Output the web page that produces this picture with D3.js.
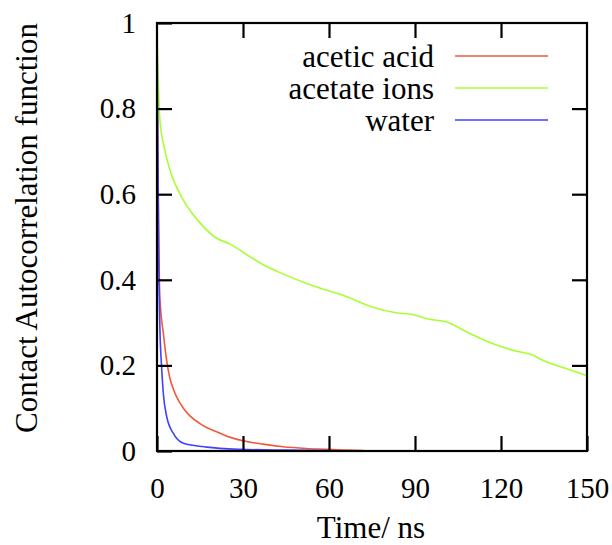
<!DOCTYPE html>
<html>
<head>
<meta charset="utf-8">
<script src="https://cdn.jsdelivr.net/npm/d3@7"></script>
<style>
  body { margin: 0; background: #fff; }
</style>
</head>
<body>
<div id="chart"></div>
<script>
// time in ns, values are contact autocorrelation
const acidTime = [0, 0.3, 0.6, 1, 2.3, 3.4, 4.5, 5.7, 6.8, 9.2, 11.5, 15, 17.3, 20.8, 25, 30, 37, 44, 52, 59, 66, 72];
const acidValue = [1, 0.7, 0.5, 0.36, 0.27, 0.21, 0.17, 0.145, 0.127, 0.1, 0.082, 0.064, 0.055, 0.045, 0.033, 0.024, 0.016, 0.01, 0.006, 0.004, 0.002, 0.001];

const ionsTime = [0, 0.2, 0.5, 1, 2.5, 4.5, 9.2, 15, 20.8, 25.4, 32.4, 38.3, 43.5, 54.4, 66, 75.3, 83.4, 89.2, 95, 100.8, 109, 118.2, 126.3, 129.8, 135.6, 142.6, 150];
const ionsValue = [1, 0.92, 0.85, 0.775, 0.71, 0.657, 0.586, 0.533, 0.497, 0.484, 0.454, 0.431, 0.415, 0.386, 0.361, 0.336, 0.323, 0.319, 0.308, 0.302, 0.275, 0.248, 0.232, 0.227, 0.209, 0.193, 0.176];

const waterTime = [0, 0.3, 0.6, 1, 1.6, 2.2, 3.4, 5.7, 9.2, 17.3, 28.9, 45, 60];
const waterValue = [1, 0.7, 0.45, 0.29, 0.197, 0.135, 0.08, 0.041, 0.018, 0.009, 0.004, 0.002, 0.001];

const seriesNames = ["acetic acid", "acetate ions", "water"];
const seriesColors = ["#f05a3c", "#a8ff30", "#4040ff"];
const xTicks = [0, 30, 60, 90, 120, 150];
const yTicks = [0, 0.2, 0.4, 0.6, 0.8, 1];

const serif = '"Liberation Serif", "Times New Roman", Times, serif';
const width = 612, height = 545;
const margin = { top: 23, right: 25, bottom: 94, left: 157 };
const innerW = width - margin.left - margin.right;
const innerH = height - margin.top - margin.bottom;
const tickLen = 15;

const svg = d3.select("#chart").append("svg")
  .attr("width", width)
  .attr("height", height);

const g = svg.append("g")
  .attr("transform", `translate(${margin.left},${margin.top})`);

const x = d3.scaleLinear().domain([0, 150]).range([0, innerW]);
const y = d3.scaleLinear().domain([0, 1]).range([innerH, 0]);

const series = [
  { name: seriesNames[0], color: seriesColors[0], pts: acidTime.map((t, i) => [t, acidValue[i]]) },
  { name: seriesNames[1], color: seriesColors[1], pts: ionsTime.map((t, i) => [t, ionsValue[i]]) },
  { name: seriesNames[2], color: seriesColors[2], pts: waterTime.map((t, i) => [t, waterValue[i]]) },
];

const line = d3.line()
  .x((d) => x(d[0]))
  .y((d) => y(d[1]))
  .curve(d3.curveMonotoneX);

g.append("defs").append("clipPath").attr("id", "clip")
  .append("rect").attr("width", innerW).attr("height", innerH);

g.append("g").attr("clip-path", "url(#clip)")
  .selectAll("path.series")
  .data(series)
  .join("path")
  .attr("class", "series")
  .attr("fill", "none")
  .attr("stroke", (d) => d.color)
  .attr("stroke-width", 1.6)
  .attr("d", (d) => line(d.pts));

// axes with inward ticks on all four sides
const styleAxis = (sel) => {
  sel.attr("font-family", null).attr("font-size", null);
  sel.select(".domain").remove();
  sel.selectAll(".tick line").attr("stroke", "#000").attr("stroke-width", 2.2);
  sel.selectAll(".tick text")
    .attr("fill", "#000")
    .style("font-family", serif)
    .style("font-size", "29px");
};

g.append("g")
  .attr("transform", `translate(0,${innerH})`)
  .call(d3.axisBottom(x).tickValues(xTicks).tickSizeInner(-tickLen).tickSizeOuter(0).tickPadding(26))
  .call(styleAxis);

g.append("g")
  .call(d3.axisTop(x).tickValues(xTicks.slice(1, -1)).tickSizeInner(-tickLen).tickSizeOuter(0).tickFormat(""))
  .call(styleAxis);

g.append("g")
  .call(d3.axisLeft(y).tickValues(yTicks).tickSizeInner(-tickLen).tickSizeOuter(0).tickPadding(21)
    .tickFormat((d) => d3.format("~g")(d)))
  .call(styleAxis);

g.append("g")
  .attr("transform", `translate(${innerW},0)`)
  .call(d3.axisRight(y).tickValues(yTicks.slice(1, -1)).tickSizeInner(-tickLen).tickSizeOuter(0).tickFormat(""))
  .call(styleAxis);

g.append("rect")
  .attr("width", innerW)
  .attr("height", innerH)
  .attr("fill", "none")
  .attr("stroke", "#000")
  .attr("stroke-width", 2.2);

// legend
const legend = g.append("g");
series.forEach((s, i) => {
  const by = 44 + i * 32;
  legend.append("text")
    .attr("x", 277)
    .attr("y", by)
    .attr("text-anchor", "end")
    .style("font-family", serif)
    .style("font-size", "31px")
    .text(s.name);
  legend.append("line")
    .attr("x1", 298).attr("x2", 391)
    .attr("y1", by - 11).attr("y2", by - 11)
    .attr("stroke", s.color)
    .attr("stroke-width", 1.6);
});

// axis titles
svg.append("text")
  .attr("x", margin.left + innerW / 2 - 1)
  .attr("y", 538)
  .attr("text-anchor", "middle")
  .style("font-family", serif)
  .style("font-size", "31px")
  .text("Time/ ns");

svg.append("text")
  .attr("transform", `translate(37,228) rotate(-90)`)
  .attr("text-anchor", "middle")
  .style("font-family", serif)
  .style("font-size", "31px")
  .text("Contact Autocorrelation function");
</script>
</body>
</html>
